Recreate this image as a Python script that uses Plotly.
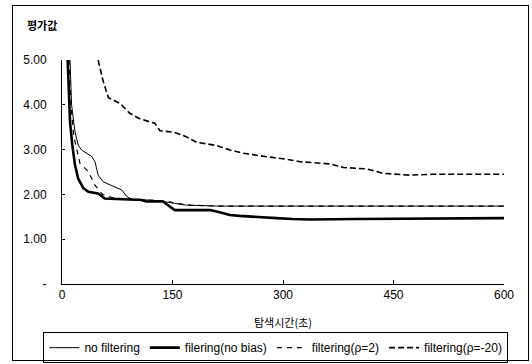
import plotly.graph_objects as go

# ---- data ----
nofilt_t = [10.9, 13, 17.6, 22, 26.7, 33.5, 40, 44.8, 49, 56, 65, 75, 81, 88, 95, 110, 130, 153, 169, 210, 300, 400, 500, 600]
nofilt_v = [5.0, 4.0, 3.4, 3.1, 2.99, 2.92, 2.85, 2.73, 2.43, 2.28, 2.21, 2.15, 2.10, 1.95, 1.89, 1.88, 1.86, 1.80, 1.76, 1.74, 1.74, 1.74, 1.74, 1.74]

nobias_t = [7.7, 9, 10.9, 14, 17.6, 22, 29, 35.7, 49, 58, 78, 99, 106, 115, 137, 153, 187, 201, 214, 228, 241, 264, 291, 313, 336, 400, 500, 600]
nobias_v = [5.0, 4.2, 3.62, 3.1, 2.66, 2.35, 2.14, 2.06, 2.02, 1.91, 1.89, 1.88, 1.88, 1.84, 1.84, 1.65, 1.65, 1.65, 1.60, 1.54, 1.52, 1.49, 1.47, 1.45, 1.44, 1.45, 1.46, 1.47]

rho2_t = [9.5, 12, 16, 24.4, 35.7, 45, 55, 70, 100, 140, 155, 175, 210, 600]
rho2_v = [5.0, 4.0, 3.3, 2.69, 2.51, 2.2, 2.0, 1.92, 1.88, 1.86, 1.80, 1.76, 1.74, 1.74]

rhom20_t = [49, 56, 63, 79, 92, 104, 119, 126, 133, 151, 167, 183, 196, 210, 228, 246, 278, 303, 323, 364, 382, 413, 436, 472, 503, 600]
rhom20_v = [5.0, 4.52, 4.16, 4.03, 3.81, 3.70, 3.62, 3.59, 3.42, 3.39, 3.30, 3.16, 3.13, 3.09, 2.99, 2.92, 2.84, 2.79, 2.73, 2.68, 2.60, 2.57, 2.47, 2.43, 2.45, 2.45]

names = ["no filtering", "filering(no bias)", "filtering(\u03c1=2)", "filtering(\u03c1=-20)"]
x_ticks = [0, 150, 300, 450, 600]
y_ticks = [0, 1, 2, 3, 4, 5]
y_ticktext = ["-", "1.00", "2.00", "3.00", "4.00", "5.00"]
x_title = "탐색시간(초)"
y_title = "평가값"

fig = go.Figure()
fig.add_trace(go.Scatter(x=nofilt_t, y=nofilt_v, mode="lines", name=names[0],
                         line=dict(color="black", width=1)))
fig.add_trace(go.Scatter(x=nobias_t, y=nobias_v, mode="lines", name=names[1],
                         line=dict(color="black", width=2.6)))
fig.add_trace(go.Scatter(x=rho2_t, y=rho2_v, mode="lines", name=names[2],
                         line=dict(color="black", width=1.2, dash="5px,5px")))
fig.add_trace(go.Scatter(x=rhom20_t, y=rhom20_v, mode="lines", name=names[3],
                         line=dict(color="black", width=1.6, dash="6px,3px")))

fig.update_layout(
    width=532, height=364,
    margin=dict(l=62, r=28, t=60, b=80, autoexpand=False),
    paper_bgcolor="white", plot_bgcolor="white",
    font=dict(family="Liberation Sans, Arial, sans-serif", size=12, color="black"),
    showlegend=True,
    legend=dict(orientation="h", x=-0.042, xanchor="left", y=-0.215, yanchor="top",
                bordercolor="black", borderwidth=1, font=dict(size=12),
                itemwidth=30, tracegroupgap=0),
    xaxis=dict(range=[0, 600], tickvals=x_ticks, ticktext=[str(v) for v in x_ticks],
               showgrid=False, zeroline=False, showline=True, linecolor="black", linewidth=1,
               ticks="inside", ticklen=4, tickcolor="black", automargin=False),
    yaxis=dict(range=[0, 5], tickvals=y_ticks, ticktext=y_ticktext,
               showgrid=False, zeroline=False, showline=True, linecolor="black", linewidth=1,
               ticks="inside", ticklen=3, tickcolor="black", ticklabelstandoff=12, automargin=False),
)

fig.add_annotation(text="<b>" + y_title + "</b>", xref="paper", yref="paper",
                   x=-0.084, y=1.156, xanchor="left", yanchor="middle", showarrow=False,
                   font=dict(family="Noto Sans CJK KR", size=11, color="black"))
fig.add_annotation(text=x_title, xref="paper", yref="paper",
                   x=0.5, y=-0.17, xanchor="center", yanchor="middle", showarrow=False,
                   font=dict(family="Noto Sans CJK KR", size=11, color="black"))

frame_js = (
    "document.body.style.margin='0';"
    "document.body.style.overflow='hidden';"
    "var fb=document.createElement('div');"
    "fb.style.cssText='position:absolute;left:12px;top:5px;width:517px;height:356px;"
    "border:1.5px solid black;box-sizing:border-box;pointer-events:none;';"
    "document.body.appendChild(fb);"
)

fig.write_html("out.html", config={"displayModeBar": False}, post_script=frame_js)
